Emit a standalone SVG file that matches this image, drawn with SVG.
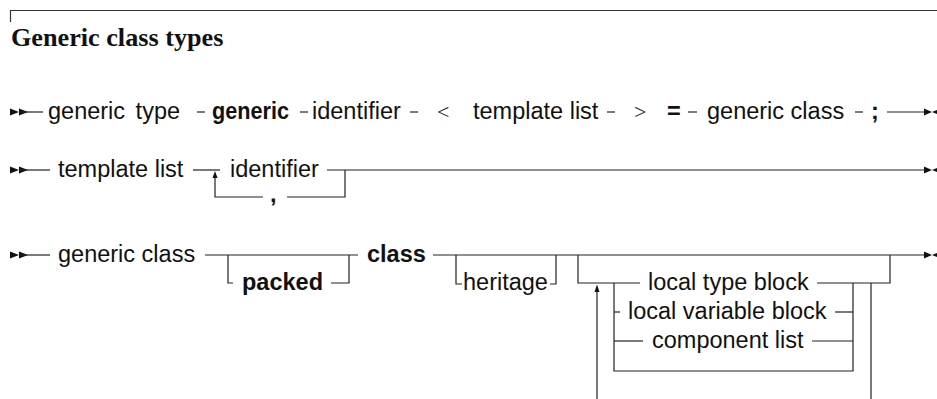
<svg xmlns="http://www.w3.org/2000/svg" width="937" height="399" viewBox="0 0 937 399">
<style>
.t{font-family:"Liberation Sans",Arial,sans-serif;font-size:23.5px;fill:#111}
.b{font-weight:bold}
.m{font-family:"Liberation Serif","Times New Roman",serif;font-size:22px;fill:#222}
.title{font-family:"Liberation Serif","Times New Roman",serif;font-size:26.2px;font-weight:bold;fill:#111}
.c line,.c path{stroke:#222;stroke-width:1.2;fill:none}
.c polygon{fill:#111;stroke:none}
</style>
<g id="frame">
<line x1="10" y1="10.5" x2="937" y2="10.5" stroke="#333" stroke-width="1.2"/>
<line x1="10.5" y1="10" x2="10.5" y2="22" stroke="#333" stroke-width="1.2"/>
<text class="title" x="11" y="45.5">Generic class types</text>
</g>
<g id="n-generic-type"><text class="t" x="48" y="119" word-spacing="4">generic type</text></g>
<g id="n-generic-kw"><text class="t b" x="212" y="119" textLength="77" lengthAdjust="spacingAndGlyphs">generic</text></g>
<g id="n-identifier1"><text class="t" x="312" y="119">identifier</text></g>
<g id="n-lt"><text class="m" x="437" y="119">&lt;</text></g>
<g id="n-template-list1"><text class="t" x="473" y="119">template list</text></g>
<g id="n-gt"><text class="m" x="634" y="119">&gt;</text></g>
<g id="n-eq"><text class="t b" x="667" y="119">=</text></g>
<g id="n-generic-class1"><text class="t" x="707" y="119">generic class</text></g>
<g id="n-semi"><text class="t b" x="871" y="119">;</text></g>
<g id="n-template-list2"><text class="t" x="58" y="177">template list</text></g>
<g id="n-identifier2"><text class="t" x="230" y="177">identifier</text></g>
<g id="n-comma"><text class="t b" x="270" y="202">,</text></g>
<g id="n-generic-class2"><text class="t" x="58" y="262">generic class</text></g>
<g id="n-packed"><text class="t b" x="242" y="290">packed</text></g>
<g id="n-class"><text class="t b" x="367" y="262">class</text></g>
<g id="n-heritage"><text class="t" x="463" y="290">heritage</text></g>
<g id="n-local-type-block"><text class="t" x="648" y="290">local type block</text></g>
<g id="n-local-variable-block"><text class="t" x="628" y="319">local variable block</text></g>
<g id="n-component-list"><text class="t" x="652" y="348">component list</text></g>
<g id="connectors" class="c">
<!-- row 1 -->
<polygon points="10,108.5 19,112 10,115.5"/>
<polygon points="19,108.5 28,112 19,115.5"/>
<line x1="19" y1="112" x2="43" y2="112"/>
<line x1="197" y1="112" x2="205" y2="112"/>
<line x1="300" y1="112" x2="308" y2="112"/>
<line x1="410" y1="112" x2="418" y2="112"/>
<line x1="607" y1="112" x2="615" y2="112"/>
<line x1="688" y1="112" x2="697" y2="112"/>
<line x1="855" y1="112" x2="863" y2="112"/>
<line x1="887" y1="112" x2="925" y2="112"/>
<polygon points="924,108.5 932,112 924,115.5"/>
<polygon points="941,108.5 932,112 941,115.5"/>
<!-- row 2 -->
<polygon points="10,166.5 19,170 10,173.5"/>
<polygon points="19,166.5 28,170 19,173.5"/>
<line x1="19" y1="170" x2="50" y2="170"/>
<line x1="193" y1="170" x2="220" y2="170"/>
<line x1="327" y1="170" x2="925" y2="170"/>
<polygon points="924,166.5 932,170 924,173.5"/>
<polygon points="941,166.5 932,170 941,173.5"/>
<path d="M345,170 V197 H287"/>
<path d="M263,197 H215 V176"/>
<polygon points="215,171 212.5,178 217.5,178"/>
<!-- row 3 -->
<polygon points="10,251.5 19,255 10,258.5"/>
<polygon points="19,251.5 28,255 19,258.5"/>
<line x1="19" y1="255" x2="50" y2="255"/>
<line x1="205" y1="255" x2="358" y2="255"/>
<path d="M228,255 V283 H233"/>
<path d="M331,283 H349 V255"/>
<line x1="433" y1="255" x2="925" y2="255"/>
<polygon points="924,251.5 932,255 924,258.5"/>
<polygon points="941,251.5 932,255 941,258.5"/>
<path d="M456,255 V284 H462"/>
<path d="M550,284 H556 V255"/>
<path d="M578,255 V283 H640"/>
<path d="M817,283 H890 V255"/>
<path d="M614,283 V371 H853 V283"/>
<line x1="614" y1="312" x2="620" y2="312"/>
<line x1="835" y1="312" x2="853" y2="312"/>
<line x1="614" y1="341" x2="643" y2="341"/>
<line x1="812" y1="341" x2="853" y2="341"/>
<line x1="597" y1="290" x2="597" y2="399"/>
<polygon points="597,284.5 594.5,292 599.5,292"/>
<line x1="871" y1="283" x2="871" y2="399"/>
</g>
</svg>
